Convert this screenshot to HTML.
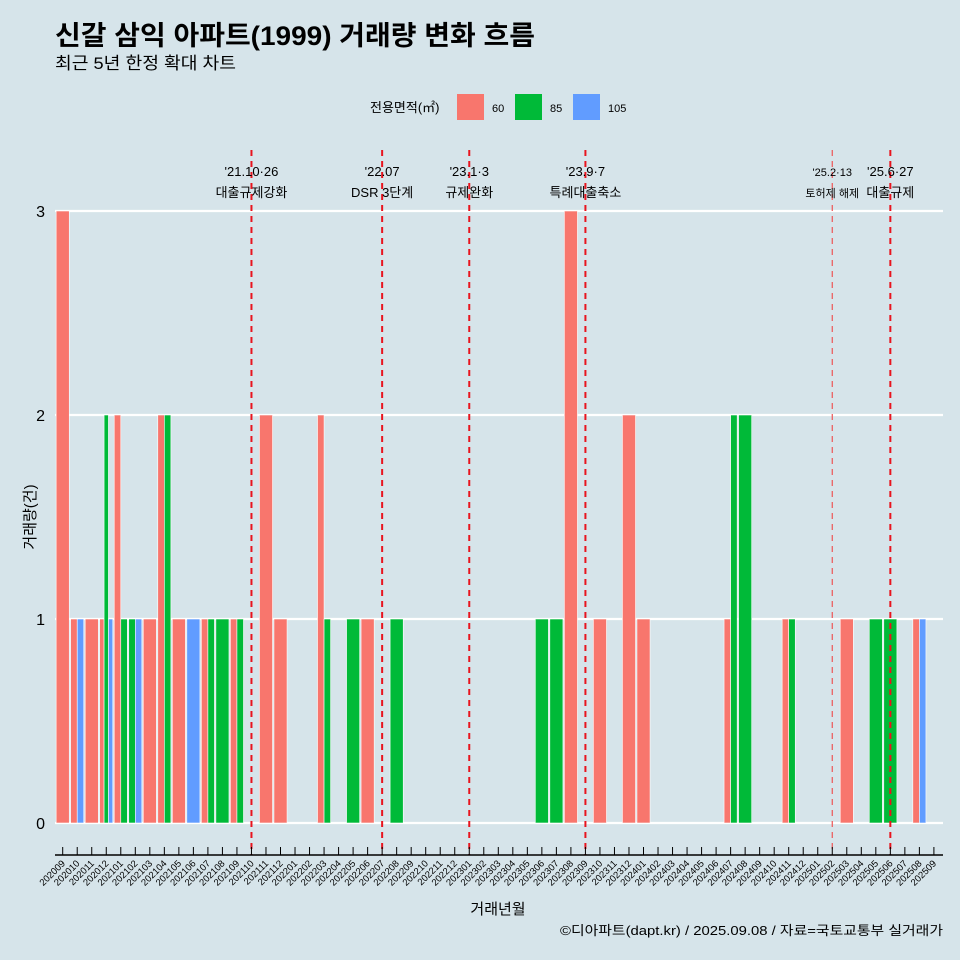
<!DOCTYPE html>
<html><head><meta charset="utf-8"><style>
body{margin:0;background:#d6e4ea;}
svg{display:block;font-family:"Liberation Sans","Noto Sans CJK KR",sans-serif;}
</style></head><body>
<svg id="c" width="960" height="960" xmlns="http://www.w3.org/2000/svg">
<rect width="960" height="960" fill="#d6e4ea"/>
<text x="55" y="45" font-size="27" font-weight="bold" fill="#000" textLength="480" lengthAdjust="spacingAndGlyphs">신갈 삼익 아파트(1999) 거래량 변화 흐름</text>
<text x="55" y="69" font-size="17" fill="#000" textLength="181" lengthAdjust="spacingAndGlyphs">최근 5년 한정 확대 차트</text>
<g>
<text x="370" y="112" font-size="13">전용면적(㎡)</text>
<rect x="457" y="94" width="27" height="26" fill="#F8766D"/>
<text x="492" y="112" font-size="11">60</text>
<rect x="515" y="94" width="27" height="26" fill="#00BA38"/>
<text x="550" y="112" font-size="11">85</text>
<rect x="573" y="94" width="27" height="26" fill="#619CFF"/>
<text x="608" y="112" font-size="11">105</text>
</g>
<g id="grid"></g><g id="bars"></g><g id="events"></g><g id="axes"></g>
<text transform="translate(35,517) rotate(-90)" text-anchor="middle" font-size="15">거래량(건)</text>
<text x="498" y="914" text-anchor="middle" font-size="15">거래년월</text>
<text x="943" y="935" text-anchor="end" font-size="13" textLength="383" lengthAdjust="spacingAndGlyphs">©디아파트(dapt.kr) / 2025.09.08 / 자료=국토교통부 실거래가</text>
</svg>
<script>
const months=["202009","202010","202011","202012","202101","202102","202103","202104","202105","202106","202107","202108","202109","202110","202111","202112","202201","202202","202203","202204","202205","202206","202207","202208","202209","202210","202211","202212","202301","202302","202303","202304","202305","202306","202307","202308","202309","202310","202311","202312","202401","202402","202403","202404","202405","202406","202407","202408","202409","202410","202411","202412","202501","202502","202503","202504","202505","202506","202507","202508","202509"];
const s60=[3,1,1,1,2,0,1,2,1,0,1,0,1,0,2,1,0,0,2,0,0,1,0,0,0,0,0,0,0,0,0,0,0,0,0,3,0,1,0,2,1,0,0,0,0,0,1,0,0,0,1,0,0,0,1,0,0,0,0,1,0];
const s85=[0,0,0,2,1,1,0,2,0,0,1,1,1,0,0,0,0,0,1,0,1,0,0,1,0,0,0,0,0,0,0,0,0,1,1,0,0,0,0,0,0,0,0,0,0,0,2,2,0,0,1,0,0,0,0,0,1,1,0,0,0];
const s105=[0,1,0,1,0,1,0,0,0,1,0,0,0,0,0,0,0,0,0,0,0,0,0,0,0,0,0,0,0,0,0,0,0,0,0,0,0,0,0,0,0,0,0,0,0,0,0,0,0,0,0,0,0,0,0,0,0,0,0,1,0];
const yTicks=[0,1,2,3];
const eventMonths=["202110","202207","202301","202309","202502","202506"];
const eventDates=["'21.10·26","'22.07","'23.1·3","'23.9·7","'25.2·13","'25.6·27"];
const eventTexts=["대출규제강화","DSR 3단계","규제완화","특례대출축소","토허제 해제","대출규제"];
const NS="http://www.w3.org/2000/svg";
const X0=62.7,STEP=14.52,Y0=823,YU=204;
const xs=i=>X0+i*STEP, ys=v=>Y0-v*YU;
function mk(t,a,p){const e=document.createElementNS(NS,t);for(const k in a)e.setAttribute(k,a[k]);p.appendChild(e);return e;}
const grid=document.getElementById('grid'),bars=document.getElementById('bars'),ev=document.getElementById('events'),ax=document.getElementById('axes');
yTicks.forEach(v=>{
 const l=mk('line',{x1:55,x2:943,y1:ys(v),y2:ys(v),stroke:'#fff','stroke-width':2.2},grid);
 
 
 const t=mk('text',{x:45,y:ys(v)+6,'text-anchor':'end','font-size':16},ax);t.textContent=v;
 
 
});
const series=[[s60,'#F8766D','60'],[s85,'#00BA38','85'],[s105,'#619CFF','105']];
const BW=13.1;
months.forEach((m,i)=>{
 const pres=series.filter(s=>s[0][i]>0);
 const w=BW/pres.length;let x=xs(i)-BW/2;
 pres.forEach(s=>{
  const v=s[0][i];
  const r=mk('rect',{x:x,y:ys(v),width:w,height:v*YU,fill:s[1],stroke:'#fff','stroke-width':0.6},bars);
  
  
  x+=w;
 });
});
eventMonths.forEach((m,k)=>{
 const x=xs(months.indexOf(m));
 const light=m==="202502";
 const l=mk('line',{x1:x,x2:x,y1:150,y2:855,stroke:light?'#ee5555':'#e8141e','stroke-width':light?1.2:2,'stroke-dasharray':'6,5'},ev);
 
 
 const t1=mk('text',{x:x,y:176,'text-anchor':'middle','font-size':light?11:13},ev);t1.textContent=eventDates[k];
 
 
 const t2=mk('text',{x:x,y:197,'text-anchor':'middle','font-size':light?11:13},ev);t2.textContent=eventTexts[k];
 
 
});
const al=mk('line',{x1:55,x2:943,y1:855,y2:855,stroke:'#000','stroke-width':1.5},ax);


months.forEach((m,i)=>{
 const x=xs(i);
 const tk=mk('line',{x1:x,x2:x,y1:847,y2:855,stroke:'#000','stroke-width':1},ax);
 
 
 const t=mk('text',{transform:`translate(${x+3},${864}) rotate(-45)`,'text-anchor':'end','font-size':9.5},ax);t.textContent=m;
 
 
});
</script>
</body></html>
